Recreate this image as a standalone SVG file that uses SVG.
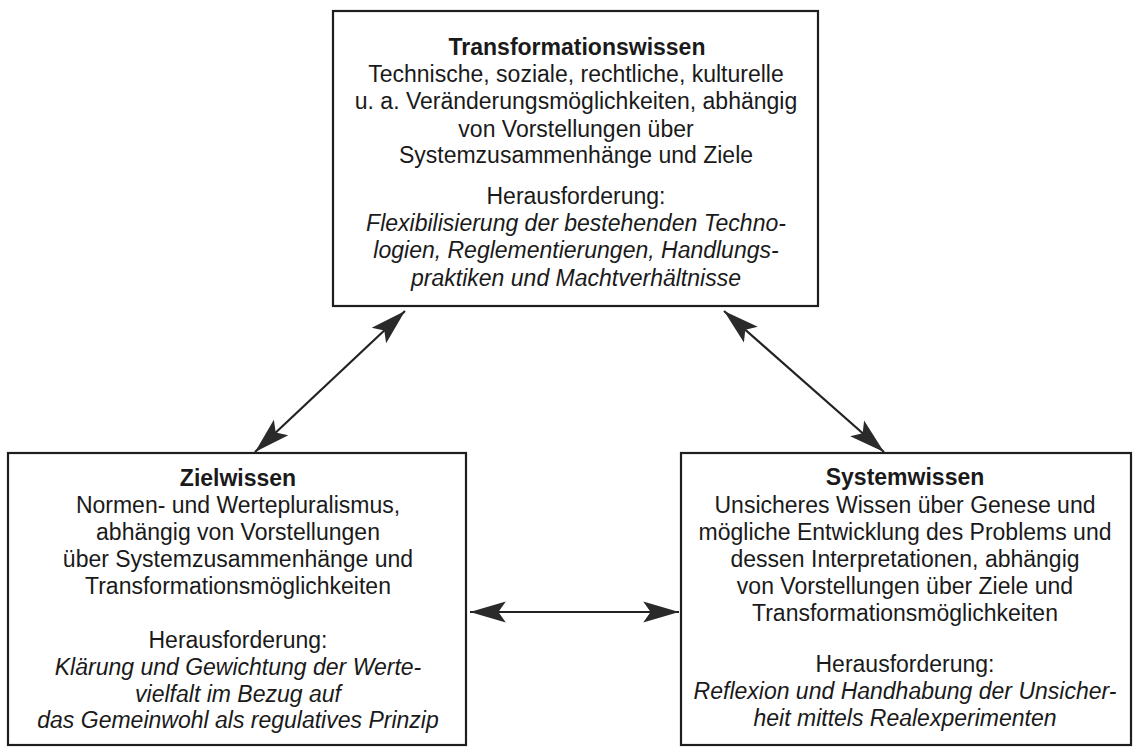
<svg xmlns="http://www.w3.org/2000/svg" width="1133" height="747" viewBox="0 0 1133 747">
<defs>
<style>
.box{fill:#fff;stroke:#1e1e1e;stroke-width:2.2}
text{font-family:"Liberation Sans",Arial,Helvetica,sans-serif;font-size:23px;fill:#1a1a1a;text-anchor:middle}
.t{font-weight:bold}
.i{font-style:italic}
.c{stroke:#222;stroke-width:2.2;fill:none;marker-start:url(#ah);marker-end:url(#ah)}
</style>
<marker id="ah" markerUnits="userSpaceOnUse" markerWidth="40" markerHeight="30" viewBox="-36 -12 38 24" refX="0" refY="0" orient="auto-start-reverse">
<path d="M0,0 L-34,-10 L-27,0 L-34,10 Z" fill="#2a2a2a"/>
</marker>
</defs>
<rect width="1133" height="747" fill="#fff"/>
<g id="connectors">
<line class="c" x1="405" y1="311" x2="255" y2="452"/>
<line class="c" x1="724" y1="311" x2="884" y2="452"/>
<line class="c" x1="470" y1="612" x2="679" y2="612"/>
</g>
<g id="transformationswissen">
<rect class="box" x="333" y="11" width="485" height="295"/>
<text class="t" x="577" y="55">Transformationswissen</text>
<text x="576" y="82">Technische, soziale, rechtliche, kulturelle</text>
<text x="576" y="109">u. a. Veränderungsmöglichkeiten, abhängig</text>
<text x="576" y="137">von Vorstellungen über</text>
<text x="576" y="163">Systemzusammenhänge und Ziele</text>
<text x="576" y="204">Herausforderung:</text>
<text class="i" x="576" y="231">Flexibilisierung der bestehenden Techno-</text>
<text class="i" x="576" y="258">logien, Reglementierungen, Handlungs-</text>
<text class="i" x="576" y="286">praktiken und Machtverhältnisse</text>
</g>
<g id="zielwissen">
<rect class="box" x="8" y="453" width="458" height="292"/>
<text class="t" x="238" y="486">Zielwissen</text>
<text x="238" y="513">Normen- und Wertepluralismus,</text>
<text x="238" y="540">abhängig von Vorstellungen</text>
<text x="238" y="567">über Systemzusammenhänge und</text>
<text x="238" y="594">Transformationsmöglichkeiten</text>
<text x="238" y="648">Herausforderung:</text>
<text class="i" x="238" y="675">Klärung und Gewichtung der Werte-</text>
<text class="i" x="238" y="702">vielfalt im Bezug auf</text>
<text class="i" x="238" y="728">das Gemeinwohl als regulatives Prinzip</text>
</g>
<g id="systemwissen">
<rect class="box" x="681" y="453" width="450" height="292"/>
<text class="t" x="905" y="485">Systemwissen</text>
<text x="905" y="513">Unsicheres Wissen über Genese und</text>
<text x="905" y="540">mögliche Entwicklung des Problems und</text>
<text x="905" y="567">dessen Interpretationen, abhängig</text>
<text x="905" y="594">von Vorstellungen über Ziele und</text>
<text x="905" y="621">Transformationsmöglichkeiten</text>
<text x="905" y="672">Herausforderung:</text>
<text class="i" x="905" y="699">Reflexion und Handhabung der Unsicher-</text>
<text class="i" x="905" y="726">heit mittels Realexperimenten</text>
</g>
</svg>
